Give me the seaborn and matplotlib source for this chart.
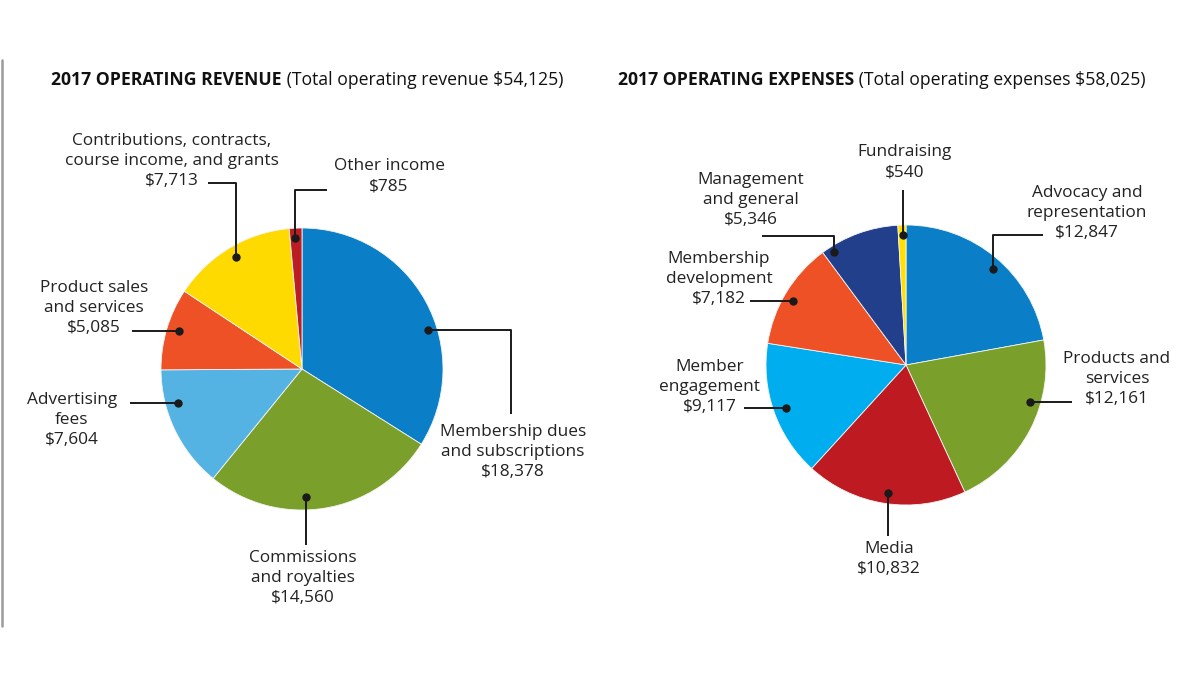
import matplotlib
matplotlib.use("Agg")
import matplotlib.pyplot as plt
import seaborn as sns

sns.set_theme(style="white")
plt.rcParams['font.family'] = ['Open Sans', 'DejaVu Sans']

# ---------------- data ----------------
rev_labels = ["Membership dues\nand subscriptions", "Commissions\nand royalties",
              "Advertising\nfees", "Product sales\nand services",
              "Contributions, contracts,\ncourse income, and grants", "Other income"]
rev_values = [18378, 14560, 7604, 5085, 7713, 785]
rev_colors = ["#0A7FC8", "#7A9F2A", "#55B3E3", "#EE5125", "#FFDA00", "#BB1D23"]

exp_labels = ["Advocacy and\nrepresentation", "Products and\nservices", "Media",
              "Member\nengagement", "Membership\ndevelopment", "Management\nand general",
              "Fundraising"]
exp_values = [12847, 12161, 10832, 9117, 7182, 5346, 540]
exp_colors = ["#0A7FC8", "#7A9F2A", "#BE1A22", "#00ADEE", "#EE5125", "#223F8C", "#FFE000"]

rev_title_bold = "2017 OPERATING REVENUE"
rev_title_rest = " (Total operating revenue $54,125)"
exp_title_bold = "2017 OPERATING EXPENSES"
exp_title_rest = " (Total operating expenses $58,025)"

# ---------------- layout (pixel coords, y from top) ----------------
W, H = 1200, 675
def Y(y):
    return H - y

rev_center, rev_radius = (302, 369), 141
exp_center, exp_radius = (906, 365), 140

# label centre (x, y of middle of block) and leader path (dot first)
rev_layout = [
    ((513, 452), [(428, 330), (511, 330), (511, 414)]),
    ((303, 578), [(306, 497), (306, 545)]),
    ((72, 420), [(178, 403), (130, 403)]),
    ((94, 308), [(179, 331), (132, 331)]),
    ((172, 161), [(236, 257), (236, 183), (208, 183)]),
    ((389, 176), [(295, 238), (295, 190), (327, 190)]),
]
exp_layout = [
    ((1087, 213), [(993, 269), (993, 235), (1043, 235)]),
    ((1117, 379), [(1030, 402), (1072, 402)]),
    ((889, 559), [(888, 493), (888, 536)]),
    ((710, 387), [(786, 408), (744, 408)]),
    ((719, 279), [(793, 301), (750, 301)]),
    ((751, 200), [(834, 252), (834, 236), (762, 236)]),
    ((905, 162), [(903, 235), (903, 190)]),
]

fig = plt.figure(figsize=(12, 6.75), dpi=100)
ax = fig.add_axes([0, 0, 1, 1])

def money(v):
    return "${:,}".format(v)

def draw_pie(values, labels, colors, center, radius, layout):
    ax.pie(values, colors=colors, startangle=90, counterclock=False,
           center=(center[0], Y(center[1])), radius=radius, frame=True,
           wedgeprops=dict(edgecolor="#f4f4f4", linewidth=0.6))
    for v, lab, (pos, path) in zip(values, labels, layout):
        xs = [p[0] for p in path]
        ys = [Y(p[1]) for p in path]
        ax.plot(xs, ys, color="#1a1a1a", lw=1.4, solid_capstyle="butt", zorder=5)
        ax.plot(xs[0], ys[0], "o", color="#1a1a1a", ms=5, zorder=6)
        ax.text(pos[0], Y(pos[1]), lab + "\n" + money(v), ha="center", va="center",
                fontsize=12.4, color="#222222", linespacing=1.36, zorder=7)

draw_pie(rev_values, rev_labels, rev_colors, rev_center, rev_radius, rev_layout)
draw_pie(exp_values, exp_labels, exp_colors, exp_center, exp_radius, exp_layout)

ax.set_xlim(0, W)
ax.set_ylim(0, H)
ax.set_aspect("equal")
ax.axis("off")

# left border line
ax.plot([2, 2], [Y(60), Y(626)], color="#9a9a9a", lw=1.8)

# titles: bold part + regular part
def title(x, y, bold, rest):
    t1 = ax.text(x, Y(y), bold, fontsize=12.7, fontweight="bold", color="#111111",
                 ha="left", va="center")
    fig.canvas.draw()
    bb = t1.get_window_extent(renderer=fig.canvas.get_renderer())
    x_end = ax.transData.inverted().transform((bb.x1, bb.y0))[0]
    ax.text(x_end, Y(y), rest, fontsize=12.7, color="#111111", ha="left", va="center")

title(51, 80, rev_title_bold, rev_title_rest)
title(618, 80, exp_title_bold, exp_title_rest)

fig.savefig("out.png", dpi=100, facecolor="white")
